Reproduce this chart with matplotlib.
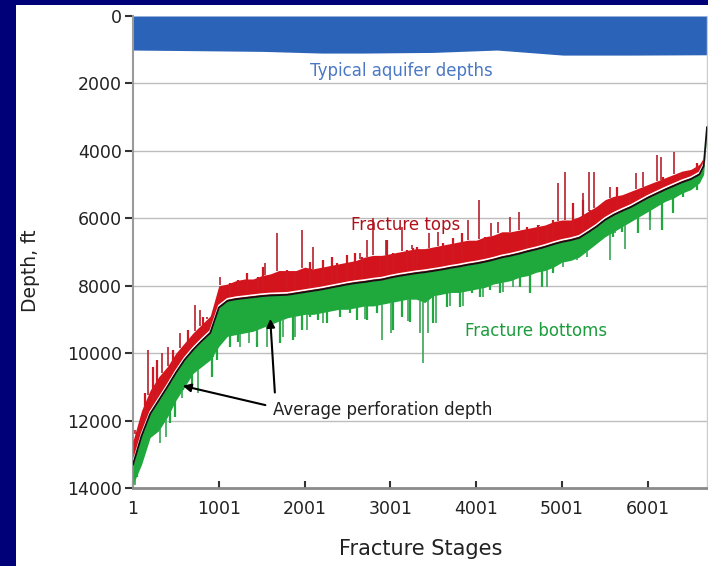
import numpy as np
import matplotlib
matplotlib.use("Agg")
import matplotlib.pyplot as plt
from matplotlib.patches import Rectangle

# ---------------- data ----------------
stages = [1, 101, 201, 301, 401, 501, 601, 701, 801, 901, 1001, 1101, 1201, 1301,
          1401, 1501, 1601, 1701, 1801, 1901, 2001, 2101, 2201, 2301, 2401, 2501,
          2601, 2701, 2801, 2901, 3001, 3101, 3201, 3301, 3401, 3501, 3601, 3701,
          3801, 3901, 4001, 4101, 4201, 4301, 4401, 4501, 4601, 4701, 4801, 4901,
          5001, 5101, 5201, 5301, 5401, 5501, 5601, 5701, 5801, 5901, 6001, 6101,
          6201, 6301, 6401, 6501, 6601, 6651, 6690]
perf_depth = [13300, 12450, 11800, 11400, 11000, 10580, 10200, 9900, 9640, 9400,
              8650, 8450, 8400, 8370, 8340, 8310, 8290, 8280, 8270, 8230, 8190,
              8150, 8110, 8060, 8010, 7960, 7920, 7890, 7850, 7820, 7760, 7710,
              7670, 7630, 7600, 7560, 7520, 7470, 7430, 7380, 7340, 7290, 7230,
              7160, 7110, 7050, 6980, 6920, 6850, 6770, 6700, 6650, 6580, 6420,
              6250, 6050, 5900, 5780, 5670, 5530, 5390, 5270, 5150, 5040, 4930,
              4840, 4700, 4450, 3300]
frac_top = [12600, 11700, 11100, 10700, 10400, 10000, 9700, 9400, 9150, 8900,
            8000, 7950, 7850, 7800, 7800, 7700, 7650, 7550, 7550, 7550, 7450,
            7500, 7450, 7400, 7350, 7300, 7250, 7150, 7100, 7100, 7050, 7000,
            6950, 6900, 6900, 6850, 6800, 6750, 6700, 6650, 6650, 6550, 6500,
            6400, 6400, 6350, 6300, 6250, 6200, 6100, 6050, 6050, 5950, 5800,
            5650, 5450, 5350, 5300, 5200, 5100, 5000, 4900, 4800, 4700, 4600,
            4550, 4400, 4200, 3200]
frac_bottom = [13900, 13300, 12500, 12300, 11900, 11400, 11000, 10600, 10400, 10200,
               9800, 9500, 9450, 9400, 9350, 9250, 9150, 9050, 8950, 8900, 8850,
               8850, 8800, 8750, 8700, 8700, 8650, 8600, 8600, 8550, 8500, 8450,
               8400, 8400, 8500, 8300, 8250, 8200, 8200, 8150, 8100, 8050, 7950,
               7900, 7850, 7750, 7700, 7600, 7550, 7450, 7300, 7250, 7150, 6950,
               6750, 6550, 6400, 6250, 6100, 5950, 5800, 5650, 5500, 5400, 5250,
               5150, 4950, 4700, 3400]

# isolated tall spikes (stage, depth)
top_spike_stage = [24, 176, 339, 409, 549, 724, 782, 863, 1015, 1540, 1680, 1970,
                   2100, 2650, 2730, 2800, 2950, 3140, 3250, 3450, 3560, 3910,
                   4030, 4170, 4260, 4400, 4500, 4730, 4950, 5040, 5240, 5310,
                   5370, 5560, 5860, 5940, 6110, 6150, 6300]
top_spike_depth = [12280, 9900, 10000, 9820, 9400, 8570, 8720, 8930, 7740, 7330,
                   6440, 6350, 6850, 7030, 6640, 5990, 6640, 6260, 6780, 6440,
                   6400, 6050, 5460, 6140, 6110, 5960, 5810, 6200, 4950, 4630,
                   5250, 4630, 4630, 5070, 4660, 4630, 4120, 4180, 4030]
bot_spike_stage = [30, 316, 390, 569, 755, 1250, 1350, 1450, 1560, 1750, 1890,
                   2030, 2210, 2700, 2900, 3010, 3210, 3350, 3380, 3440, 3530,
                   3690, 3850, 4080, 4310, 4430, 4570, 4830, 5010, 5180, 5290,
                   5560, 5620, 5740, 6020, 6260]
bot_spike_depth = [13900, 12660, 12500, 11330, 11180, 9820, 9700, 9650, 9820,
                   9520, 9520, 9300, 9100, 9000, 9610, 9400, 9060, 9400, 10290,
                   9400, 9100, 8600, 8600, 8330, 8200, 8050, 7700, 8050, 7440,
                   7250, 7150, 7240, 6450, 6900, 6350, 5400]

# shorter, denser spikes that give the bands their ragged edge
top_minor_stage = [63, 141, 238, 277, 471, 646, 821, 879, 1132, 1229, 1326, 1462,
                   1520, 1792, 1889, 2064, 2220, 2317, 2375, 2492, 2589, 2666,
                   2880, 2958, 3035, 3191, 3269, 3307, 3618, 3734, 3831, 4103,
                   4589, 4725, 4822, 4900, 5133, 5250, 5327, 5638, 5793, 5910,
                   6182, 6376, 6570]
top_minor_depth = [12279, 11191, 10400, 10203, 9906, 9313, 8917, 9016, 7929, 7830,
                   7632, 7731, 7435, 7534, 7632, 7287, 7237, 7138, 7336, 7089,
                   7040, 7138, 7138, 6644, 7040, 6941, 6891, 6841, 6742, 6594,
                   6446, 6545, 6248, 6199, 6248, 6051, 5556, 5458, 5754, 5062,
                   5260, 5161, 4766, 4667, 4370]
bot_minor_stage = [44, 121, 199, 257, 432, 490, 588, 685, 704, 840, 918, 937, 976,
                   1054, 1132, 1229, 1443, 1637, 1714, 1870, 1967, 2064, 2161,
                   2259, 2414, 2530, 2608, 2725, 2841, 3035, 3133, 3230, 3501,
                   3656, 3812, 3948, 4045, 4161, 4278, 4395, 4511, 4628, 4764,
                   4900, 5036, 5211, 5327, 5599, 5696, 5891, 6027, 6163, 6298,
                   6415, 6570]
bot_minor_depth = [13663, 13070, 12477, 12279, 12081, 11883, 11093, 10994, 10005,
                   10104, 10697, 10104, 10203, 9610, 9808, 9659, 9808, 9017, 9709,
                   9610, 9314, 8918, 9017, 9116, 8918, 8819, 9017, 9017, 8819,
                   9314, 8918, 9066, 9115, 8621, 8621, 8225, 8324, 8127, 8225,
                   7731, 8028, 8225, 8028, 7632, 7138, 7040, 6841, 6545, 6397,
                   6446, 6051, 6347, 5853, 5359, 5161]

aquifer_stage = [1, 800, 1517, 2200, 2682, 3500, 4243, 5013, 5800, 6690]
aquifer_bottom = [1010, 1030, 1050, 1100, 1100, 1080, 1010, 1160, 1160, 1150]

x_ticks = [1, 1001, 2001, 3001, 4001, 5001, 6001]
y_ticks = [0, 2000, 4000, 6000, 8000, 10000, 12000, 14000]

# ---------------- figure ----------------
W, H = 708, 566
fig = plt.figure(figsize=(W / 100, H / 100), dpi=100, facecolor="#000078")
fig.patches.append(Rectangle((16 / W, 0), 1 - 16 / W, 1 - 5 / H,
                             transform=fig.transFigure, facecolor="white",
                             edgecolor="none", zorder=-10))
ax = fig.add_axes([133 / W, 1 - 488 / H, (707 - 133) / W, (488 - 16) / H])
ax.set_zorder(1)
ax.set_facecolor("white")

ax.set_xlim(1, 6690)
ax.set_ylim(14000, 0)

for yv in y_ticks[1:-1]:
    ax.axhline(yv, color="#bdbdbd", lw=1.0, zorder=1)

# aquifer band
ax.fill_between(aquifer_stage, 0, aquifer_bottom, color="#2b63b8", lw=0, zorder=2)
ax.text(3130, 1620, "Typical aquifer depths", color="#4a78c4", fontsize=12,
        ha="center", va="center", zorder=6)

st = np.array(stages, dtype=float)
pf = np.array(perf_depth, dtype=float)
ax.fill_between(st, pf, frac_bottom, color="#1fa83c", lw=0, zorder=3)
ax.fill_between(st, frac_top, pf, color="#d4141c", lw=0, zorder=3.5)

bm = np.array(bot_minor_stage, dtype=float)
ax.vlines(bm, np.interp(bm, st, pf), bot_minor_depth,
          color="#1fa83c", lw=1.6, zorder=3.1)
bs = np.array(bot_spike_stage, dtype=float)
ax.vlines(bs, np.interp(bs, st, frac_bottom), bot_spike_depth,
          color="#3aa655", lw=1.2, zorder=3.2)
tm = np.array(top_minor_stage, dtype=float)
ax.vlines(tm, np.interp(tm, st, pf), top_minor_depth,
          color="#cf1822", lw=1.6, zorder=3.55)
ts = np.array(top_spike_stage, dtype=float)
ax.vlines(ts, np.interp(ts, st, frac_top), top_spike_depth,
          color="#b8202c", lw=1.2, zorder=3.6)

ax.plot(st, pf - 60, color="white", lw=1.2, zorder=4)
ax.plot(st, pf, color="#111111", lw=1.3, zorder=4.2)

ax.text(3180, 6200, "Fracture tops", color="#b0101c", fontsize=12,
        ha="center", va="center", zorder=6)
ax.text(4700, 9340, "Fracture bottoms", color="#1c9c3c", fontsize=12,
        ha="center", va="center", zorder=6)
ax.text(1633, 11680, "Average perforation depth", color="#222222", fontsize=12,
        ha="left", va="center", zorder=6)
arrow = dict(arrowstyle="-|>", color="black", lw=1.5, mutation_scale=12)
ax.annotate("", xy=(549, 10950), xytext=(1575, 11560), arrowprops=arrow, zorder=6)
ax.annotate("", xy=(1598, 8900), xytext=(1656, 11250), arrowprops=arrow, zorder=6)

ax.set_xticks(x_ticks)
ax.set_xticklabels([str(v) for v in x_ticks])
ax.set_yticks(y_ticks)
ax.set_yticklabels([str(v) for v in y_ticks])
ax.tick_params(axis="x", direction="in", length=5, width=1.5, color="#333333",
               labelsize=12.5, pad=9, labelcolor="#222222")
ax.tick_params(axis="y", direction="out", length=6, width=1.5, color="#333333",
               labelsize=12.5, pad=2, labelcolor="#222222")

ax.spines["top"].set_visible(False)
ax.spines["left"].set_color("#9a9a9a")
ax.spines["left"].set_linewidth(1.5)
ax.spines["bottom"].set_color("#8a8a8a")
ax.spines["bottom"].set_linewidth(2)
ax.spines["right"].set_color("#cccccc")
ax.spines["right"].set_linewidth(1)

fig.text(31 / W, 1 - 271 / H, "Depth, ft", rotation=90, fontsize=13.5,
         ha="center", va="center", color="#222222")
fig.text(421 / W, 1 - 549 / H, "Fracture Stages", fontsize=15,
         ha="center", va="center", color="#222222")

fig.savefig("out.png", dpi=100, facecolor=fig.get_facecolor())
